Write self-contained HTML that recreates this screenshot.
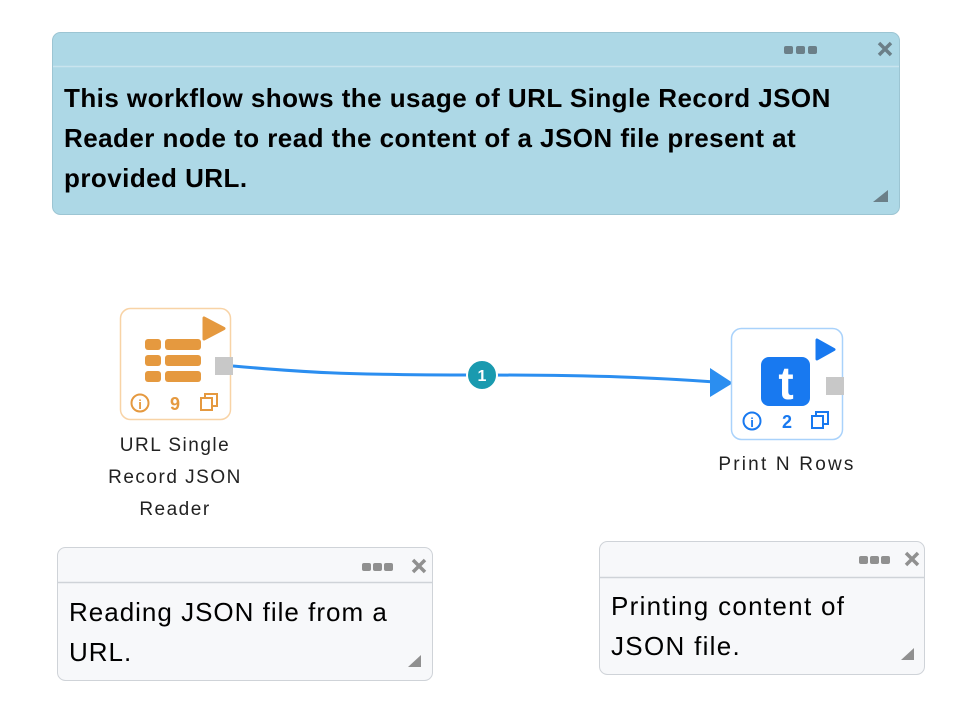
<!DOCTYPE html>
<html><head><meta charset="utf-8"><style>
body{margin:0;width:975px;height:727px;background:#fff;overflow:hidden;font-family:"Liberation Sans",sans-serif}
svg{position:absolute;left:0;top:0}
.t{position:absolute;white-space:nowrap}
</style></head><body>
<svg width="975" height="727" viewBox="0 0 975 727">
<rect x="52.5" y="32.5" width="847" height="182" rx="8" fill="#add8e6" stroke="#9cc5d3"/>
<line x1="53" y1="66.5" x2="899" y2="66.5" stroke="#c9e4ee" stroke-width="1.5"/>
<g fill="#6b7f88"><rect x="784" y="46" width="9" height="8" rx="2"/><rect x="796" y="46" width="9" height="8" rx="2"/><rect x="808" y="46" width="9" height="8" rx="2"/></g>
<path d="M879 43 L891 55 M891 43 L879 55" stroke="#6b7f88" stroke-width="3.5"/>
<path d="M888 190 L873 202 L888 202 Z" fill="#6b7f88"/>
<rect x="57.5" y="547.5" width="375" height="133" rx="8" fill="#f7f8fa" stroke="#cfd3d8"/>
<line x1="58" y1="582.5" x2="432" y2="582.5" stroke="#cfd3d8" stroke-width="1.5"/>
<g fill="#909090"><rect x="362" y="563" width="9" height="8" rx="2"/><rect x="373" y="563" width="9" height="8" rx="2"/><rect x="384" y="563" width="9" height="8" rx="2"/></g>
<path d="M413 560 L425 572 M425 560 L413 572" stroke="#909090" stroke-width="3.5"/>
<path d="M421 655 L408 667 L421 667 Z" fill="#909090"/>
<rect x="599.5" y="541.5" width="325" height="133" rx="8" fill="#f7f8fa" stroke="#cfd3d8"/>
<line x1="600" y1="577.5" x2="924" y2="577.5" stroke="#cfd3d8" stroke-width="1.5"/>
<g fill="#909090"><rect x="859" y="556" width="9" height="8" rx="2"/><rect x="870" y="556" width="9" height="8" rx="2"/><rect x="881" y="556" width="9" height="8" rx="2"/></g>
<path d="M906 553 L918 565 M918 553 L906 565" stroke="#909090" stroke-width="3.5"/>
<path d="M914 648 L901 660 L914 660 Z" fill="#909090"/>
<path d="M233 366 C300 372 340 375 480 375 C600 375 660 378 715 382" fill="none" stroke="#2b8ef0" stroke-width="3"/>
<path d="M710 368 L733 383 L710 397 Z" fill="#2b8ef0"/>
<circle cx="482" cy="375" r="15" fill="#1a9aaf" stroke="#fff" stroke-width="2"/>
<text x="482" y="381" font-size="16" font-weight="bold" fill="#fff" text-anchor="middle" font-family="Liberation Sans">1</text>
<rect x="120.5" y="308.5" width="110" height="111" rx="10" fill="#fff" stroke="#f8d3a6" stroke-width="1.5"/>
<path d="M204 318 L204 339 L224 328.5 Z" fill="#e5993f" stroke="#e5993f" stroke-width="3" stroke-linejoin="round"/>
<g fill="#e5993f">
<rect x="145" y="339" width="16" height="11" rx="3"/><rect x="165" y="339" width="36" height="11" rx="3"/>
<rect x="145" y="355" width="16" height="11" rx="3"/><rect x="165" y="355" width="36" height="11" rx="3"/>
<rect x="145" y="371" width="16" height="11" rx="3"/><rect x="165" y="371" width="36" height="11" rx="3"/>
</g>
<rect x="215" y="357" width="18" height="18" fill="#c8c8c8"/>
<circle cx="140" cy="403" r="8.5" fill="none" stroke="#e5993f" stroke-width="2"/>
<text x="140" y="409" font-size="13" font-weight="bold" fill="#e5993f" text-anchor="middle">i</text>
<text x="175" y="410" font-size="18" font-weight="bold" fill="#e5993f" text-anchor="middle">9</text>
<rect x="201" y="398" width="11" height="12" fill="none" stroke="#e5993f" stroke-width="2"/>
<path d="M205 398 V394 H217 V406 H212" fill="none" stroke="#e5993f" stroke-width="2"/>
<rect x="731.5" y="328.5" width="111" height="111" rx="10" fill="#fff" stroke="#a9d2fb" stroke-width="1.5"/>
<path d="M817 340 L817 359 L834 349.5 Z" fill="#1879f0" stroke="#1879f0" stroke-width="3" stroke-linejoin="round"/>
<rect x="761" y="357" width="49" height="49" rx="8" fill="#1879f0"/>
<text x="786" y="399" font-size="46" font-weight="bold" fill="#fff" text-anchor="middle">t</text>
<rect x="826" y="377" width="18" height="18" fill="#c8c8c8"/>
<circle cx="752" cy="421" r="8.5" fill="none" stroke="#1879f0" stroke-width="2"/>
<text x="752" y="427" font-size="13" font-weight="bold" fill="#1879f0" text-anchor="middle">i</text>
<text x="787" y="428" font-size="18" font-weight="bold" fill="#1879f0" text-anchor="middle">2</text>
<rect x="812" y="416" width="11" height="12" fill="none" stroke="#1879f0" stroke-width="2"/>
<path d="M816 416 V412 H828 V424 H823" fill="none" stroke="#1879f0" stroke-width="2"/>
</svg>
<div class="t" style="left:64px;top:78px;font-size:26px;font-weight:bold;line-height:40px;letter-spacing:0.45px;color:#000">This workflow shows the usage of URL Single Record JSON<br>Reader node to read the content of a JSON file present at<br>provided URL.</div>
<div class="t" style="left:69px;top:592px;font-size:26px;line-height:40px;letter-spacing:1px;color:#000">Reading JSON file from a<br>URL.</div>
<div class="t" style="left:611px;top:586px;font-size:26px;line-height:40px;letter-spacing:1.3px;color:#000">Printing content of<br>JSON file.</div>
<div class="t" style="left:85px;top:430px;width:180px;text-align:center;font-size:19px;line-height:32px;letter-spacing:1.5px;color:#222">URL Single<br>Record JSON<br>Reader</div>
<div class="t" style="left:687px;top:452px;width:200px;text-align:center;font-size:19px;line-height:26px;letter-spacing:2.2px;color:#222">Print N Rows</div>
</body></html>
